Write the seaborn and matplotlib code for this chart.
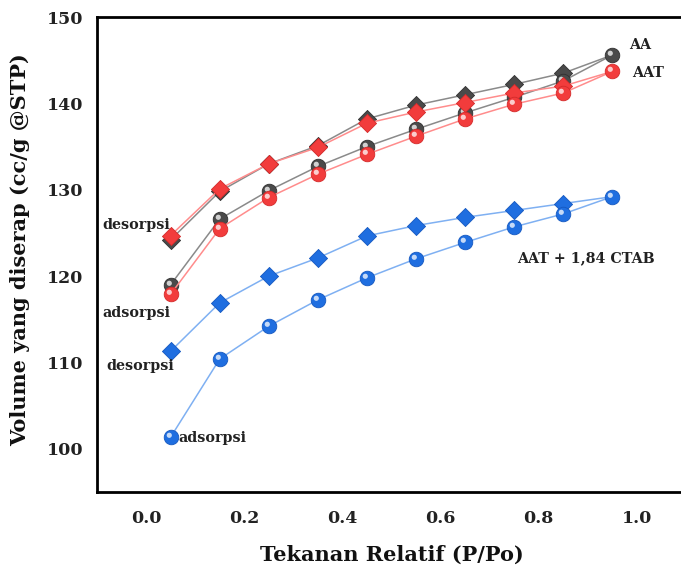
import numpy as np
import pandas as pd
import matplotlib
matplotlib.use("Agg")
import matplotlib.pyplot as plt
import matplotlib.transforms as mtransforms
import seaborn as sns

# ---- data ----
p_rel = [0.05, 0.15, 0.25, 0.35, 0.45, 0.55, 0.65, 0.75, 0.85, 0.95]

aa_ads = [119.0, 126.6, 129.9, 132.7, 135.0, 137.0, 138.9, 140.7, 142.6, 145.6]
aa_des = [124.2, 129.8, 133.0, 135.1, 138.2, 139.8, 141.0, 142.2, 143.5, 145.6]

aat_ads = [117.9, 125.5, 129.1, 131.8, 134.1, 136.2, 138.2, 139.9, 141.2, 143.7]
aat_des = [124.7, 130.1, 133.0, 134.9, 137.7, 139.0, 140.1, 141.2, 142.0, 143.7]

ctab_ads = [101.35, 110.4, 114.2, 117.25, 119.8, 122.0, 123.9, 125.7, 127.2, 129.2]
ctab_des = [111.3, 116.9, 120.0, 122.1, 124.65, 125.85, 126.8, 127.6, 128.4, 129.2]

x_ticks = [0.0, 0.2, 0.4, 0.6, 0.8, 1.0]
y_ticks = [100, 110, 120, 130, 140, 150]

sns.set_theme(style="white")
plt.rcParams['font.family'] = ['DejaVu Serif']
plt.rcParams['font.weight'] = 'bold'

fig = plt.figure(figsize=(6.81, 5.71), dpi=100)
ax = fig.add_axes([97/681, 79/571, 589/681, 475/571])

series = [
    # name, ads, des, marker colour, line colour, edge colour
    ("AA", aa_ads, aa_des, "#4a4a4a", "#8a8a8a", "#303030"),
    ("AAT", aat_ads, aat_des, "#f23c3c", "#ff8c8c", "#d42a2a"),
    ("CTAB", ctab_ads, ctab_des, "#1f6ee0", "#7fb0f2", "#1558c0"),
]

hl_offset = mtransforms.ScaledTranslation(-1.6/72, 1.6/72, fig.dpi_scale_trans)

for z, (name, ads, des, mc, lc, ec) in enumerate(series):
    df_a = pd.DataFrame({"p": p_rel, "v": ads})
    df_d = pd.DataFrame({"p": p_rel, "v": des})
    sns.lineplot(data=df_a, x="p", y="v", ax=ax, color=lc, linewidth=1.1,
                 zorder=2 + 3*z, legend=False)
    sns.lineplot(data=df_d, x="p", y="v", ax=ax, color=lc, linewidth=1.1,
                 zorder=2 + 3*z, legend=False)
    # diamonds for desorption (last point is the shared sphere)
    sns.scatterplot(data=df_d.iloc[:-1], x="p", y="v", ax=ax, marker="D",
                    s=85, color=mc, edgecolor=ec, linewidth=0.6,
                    zorder=3 + 3*z, legend=False)
    # spheres for adsorption
    sns.scatterplot(data=df_a, x="p", y="v", ax=ax, marker="o",
                    s=110, color=mc, edgecolor=ec, linewidth=0.6,
                    zorder=4 + 3*z, legend=False)
    hl = sns.scatterplot(data=df_a, x="p", y="v", ax=ax, marker="o",
                         s=14, color="white", alpha=0.75, linewidth=0,
                         zorder=4.5 + 3*z, legend=False)
    hl.collections[-1].set_transform(hl.collections[-1].get_transform() + hl_offset)

ax.set_xlim(-0.1, 1.1)
ax.set_ylim(95, 150)
ax.set_xticks(x_ticks)
ax.set_yticks(y_ticks)
ax.set_xticklabels([f"{t:.1f}" for t in x_ticks])
ax.set_yticklabels([str(t) for t in y_ticks])

for side in ["left", "bottom", "top", "right"]:
    ax.spines[side].set_visible(True)
    ax.spines[side].set_color("black")
    ax.spines[side].set_linewidth(2.0)

ax.tick_params(axis="both", which="major", direction="out", length=6, width=1.8,
               color="black", labelsize=12.5)
ax.tick_params(axis="x", pad=7)
ax.tick_params(axis="y", pad=4)
ax.tick_params(top=False, right=False)
for lab in ax.get_xticklabels() + ax.get_yticklabels():
    lab.set_fontweight("bold")
    lab.set_color("#222222")

ax.set_xlabel("Tekanan Relatif (P/Po)", fontsize=15, fontweight="bold",
              color="#111111", labelpad=13)
ax.set_ylabel("Volume yang diserap (cc/g @STP)", fontsize=15, fontweight="bold",
              color="#111111")
ax.yaxis.set_label_coords(-0.113, 0.51)

txt = dict(fontsize=10.3, fontweight="bold", color="#222222", zorder=20)
ax.text(0.985, 146.8, "AA", ha="left", va="center", **txt)
ax.text(0.99, 143.5, "AAT", ha="left", va="center", **txt)
ax.text(0.755, 122.1, "AAT + 1,84 CTAB", ha="left", va="center", **txt)
ax.text(-0.02, 125.9, "desorpsi", ha="center", va="center", **txt)
ax.text(-0.02, 115.7, "adsorpsi", ha="center", va="center", **txt)
ax.text(-0.012, 109.6, "desorpsi", ha="center", va="center", **txt)
ax.text(0.066, 101.2, "adsorpsi", ha="left", va="center", **txt)

fig.savefig("out.png", dpi=100)
